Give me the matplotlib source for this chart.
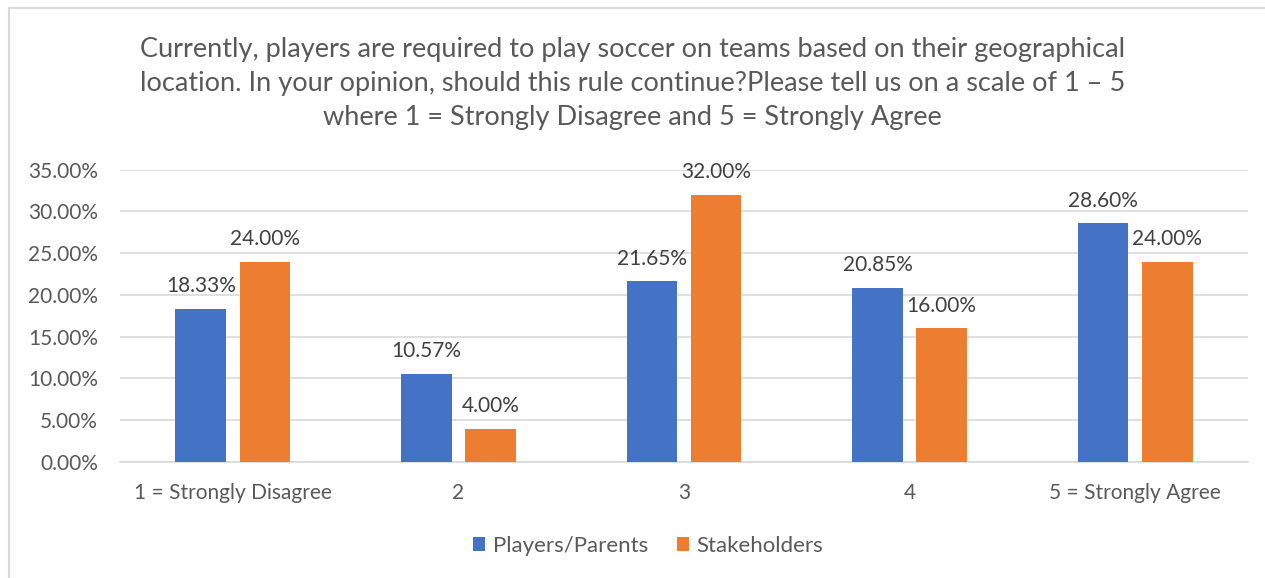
import matplotlib
matplotlib.use("Agg")
import matplotlib.pyplot as plt
from matplotlib.lines import Line2D
import numpy as np

plt.rcParams['font.family'] = ['Lato', 'DejaVu Sans']

categories = ["1 = Strongly Disagree", "2", "3", "4", "5 = Strongly Agree"]
players_parents = [18.33, 10.57, 21.65, 20.85, 28.60]
stakeholders = [24.00, 4.00, 32.00, 16.00, 24.00]
series_names = ["Players/Parents", "Stakeholders"]
title = ("Currently, players are required to play soccer on teams based on their geographical\n"
         "location. In your opinion, should this rule continue?Please tell us on a scale of 1 \u2013 5\n"
         "where 1 = Strongly Disagree and 5 = Strongly Agree")

blue = "#4472C4"
orange = "#ED7D31"
txt = "#595959"

fig = plt.figure(figsize=(12.65, 5.78), dpi=100)
ax = fig.add_axes([120 / 1265, 1 - 462 / 578, 1128 / 1265, (462 - 169.7) / 578])

x = np.arange(len(categories))
w = 0.224
off = 0.142
b1 = ax.bar(x - off, players_parents, w, color=blue, label=series_names[0], zorder=3)
b2 = ax.bar(x + off, stakeholders, w, color=orange, label=series_names[1], zorder=3)

for bars, vals in ((b1, players_parents), (b2, stakeholders)):
    for b, v in zip(bars, vals):
        ax.annotate(f"{v:.2f}%", (b.get_x() + b.get_width() / 2, v), xytext=(0, 9),
                    textcoords="offset points", ha="center", va="bottom",
                    fontsize=15, color="#404040")

ax.set_xlim(-0.5, 4.5)
ax.set_ylim(0, 35)
ax.set_yticks(np.arange(0, 35.1, 5))
ax.set_yticklabels([f"{t:.2f}%" for t in np.arange(0, 35.1, 5)])
ax.set_xticks(x)
ax.set_xticklabels(categories)
ax.tick_params(axis='both', length=0, labelsize=15, labelcolor=txt)
ax.tick_params(axis='y', pad=16)
ax.tick_params(axis='x', pad=15)
ax.grid(axis='y', color="#D9D9D9", linewidth=1.2, zorder=0)
for s in ["top", "right", "left"]:
    ax.spines[s].set_visible(False)
ax.spines["bottom"].set_color("#D9D9D9")
ax.spines["bottom"].set_linewidth(1.2)

fig.text(0.5, 1 - 37 / 578, title, ha="center", va="top", fontsize=19.5, color=txt, linespacing=1.45)

leg = fig.legend(handles=[b1, b2], labels=series_names, loc="center",
                 bbox_to_anchor=(648 / 1265, 1 - 546 / 578),
                 ncol=2, frameon=False, fontsize=16, handlelength=0.55, handleheight=0.55,
                 columnspacing=1.3, handletextpad=0.35)
for t in leg.get_texts():
    t.set_color(txt)

fig.add_artist(Line2D([9 / 1265, 9 / 1265], [0, 1 - 8 / 578], transform=fig.transFigure,
                      color="#D9D9D9", linewidth=1.5))
fig.add_artist(Line2D([9 / 1265, 1], [1 - 8 / 578, 1 - 8 / 578], transform=fig.transFigure,
                      color="#D9D9D9", linewidth=1.5))

fig.savefig("out.png", dpi=100, facecolor="white")
